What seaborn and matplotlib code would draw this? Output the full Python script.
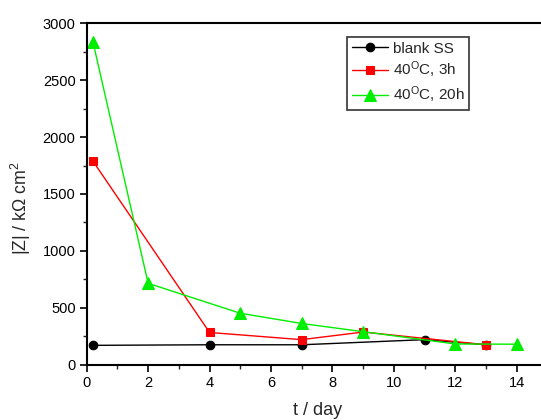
import matplotlib
matplotlib.use("Agg")
import matplotlib.pyplot as plt
import seaborn as sns
import pandas as pd
from matplotlib.ticker import MultipleLocator

sns.set_style("ticks")
plt.rcParams['font.family'] = ['Liberation Sans', 'DejaVu Sans']
plt.rcParams['mathtext.fontset'] = 'custom'
plt.rcParams['mathtext.rm'] = 'Liberation Sans'
plt.rcParams['mathtext.it'] = 'Liberation Sans'

blank_t = [0.2, 4, 7, 11, 13]
blank_z = [170, 175, 175, 220, 175]
h3_t = [0.2, 4, 7, 9, 13]
h3_z = [1790, 283, 220, 287, 175]
h20_t = [0.2, 2, 5, 7, 9, 12, 14]
h20_z = [2840, 715, 452, 362, 290, 182, 180]

labels = ["blank SS", "40$^{\\rm O}$C, 3h", "40$^{\\rm O}$C, 20h"]
colors = ["black", "#ff0000", "#00ee00"]
markers = ["o", "s", "^"]
msizes = [6.2, 6.0, 8.0]

fig = plt.figure(figsize=(5.41, 4.2), dpi=100)
ax = fig.add_axes([0.1603, 0.1317, 0.8516, 0.8128])

series = [(blank_t, blank_z), (h3_t, h3_z), (h20_t, h20_z)]
for (t, z), lab, c, m, ms in zip(series, labels, colors, markers, msizes):
    df = pd.DataFrame({"t": t, "z": z})
    sns.lineplot(data=df, x="t", y="z", ax=ax, color=c, marker=m, markersize=ms,
                 markeredgecolor=c, markerfacecolor=c, linewidth=1.0, label=lab)

ax.set_xlim(0, 15)
ax.set_ylim(0, 3000)
ax.set_xticks([0, 2, 4, 6, 8, 10, 12, 14])
ax.xaxis.set_minor_locator(MultipleLocator(1))
ax.yaxis.set_major_locator(MultipleLocator(500))
ax.yaxis.set_minor_locator(MultipleLocator(250))
ax.tick_params(which='major', direction='out', length=5, width=1.2, labelsize=10.5,
               colors='black', pad=3)
ax.tick_params(which='minor', direction='out', length=3, width=1.0)
for s in ax.spines.values():
    s.set_linewidth(1.5)
    s.set_color('black')
    s.set_visible(True)

ax.set_xlabel("t / day", fontsize=13, labelpad=9)
ax.set_ylabel("|Z| / k\u03a9 cm$^2$", fontsize=12.8)
ax.yaxis.set_label_coords(-0.117, 0.459)

leg = ax.legend(loc='upper left', bbox_to_anchor=(0.565, 0.96), frameon=True, fancybox=False,
                edgecolor='black', fontsize=11, handlelength=2.4, handletextpad=0.3,
                borderpad=0.3, labelspacing=0.28, borderaxespad=0)
leg.get_frame().set_linewidth(1.2)

fig.savefig("out.png", dpi=100)
